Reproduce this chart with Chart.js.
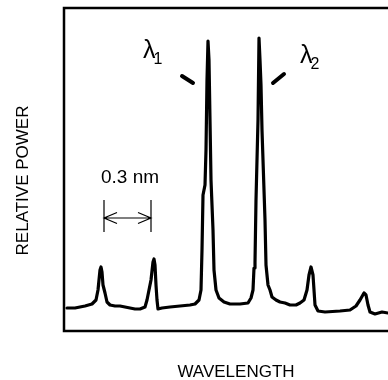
<!DOCTYPE html>
<html>
<head>
<meta charset="utf-8">
<script src="https://cdn.jsdelivr.net/npm/chart.js@4"></script>
<style>
html,body{margin:0;padding:0;background:#fff;}
canvas{display:block;}
</style>
</head>
<body>
<canvas id="c" width="388" height="380"></canvas>
<script>
// Wavelength (arbitrary units) and relative power (arbitrary units)
const wavelength = [3,11,21,28,32,34,36,37,38,39,41,43,46,51,56,61,71,76,81,83,85,87,89,90,91,92,93,94,98,106,116,126,131,135,137,138,139,141,142,143,144,145,146,147,149,150,152,155,160,166,176,184,187,189,190,191,192,194,195,196,197,198,200,201,202,204,206,208,212,216,221,226,232,236,240,243,245,247,249,250,251,254,261,276,286,292,296,300,302,304,306,311,318,324];
const power =      [23,23,25,27,31,41,61,64,59,46,38,29,26,25,25,24,22,22,24,31,41,51,69,72,66,46,31,22,23,24,25,26,27,31,41,81,136,146,181,251,290,271,211,151,101,61,41,33,29,27,27,28,33,41,63,69,131,211,293,271,246,201,141,111,66,46,41,34,31,29,28,26,26,28,31,41,56,64,56,41,26,20,19,20,21,25,31,38,36,26,19,17,19,18];
const xRange = [0, 324];
const yRange = [0, 323];
const axisTitles = { x: 'WAVELENGTH', y: 'RELATIVE POWER' };
const peakLabels = [
  { main: 'λ', sub: '1', x: 79, y: 273, tick: [[118, 255], [129, 248]] },
  { main: 'λ', sub: '2', x: 236, y: 268, tick: [[209, 248], [220, 257]] }
];
const spacing = { text: '0.3 nm', x1: 40, x2: 87, yText: 148, yArrow: 113, yBarTop: 131, yBarBot: 99 };

const points = wavelength.map((w, i) => ({ x: w, y: power[i] }));

const decor = {
  id: 'decor',
  beforeDatasetsDraw(chart) {
    const { ctx, chartArea: a } = chart;
    ctx.save();
    ctx.strokeStyle = '#000';
    ctx.lineWidth = 2.5;
    ctx.beginPath();
    ctx.moveTo(a.right + 2, a.top);
    ctx.lineTo(a.left, a.top);
    ctx.lineTo(a.left, a.bottom);
    ctx.lineTo(a.right + 2, a.bottom);
    ctx.stroke();
    ctx.restore();
  },
  afterDraw(chart) {
    const { ctx, chartArea: a } = chart;
    const xs = chart.scales.x, ys = chart.scales.y;
    ctx.save();
    ctx.fillStyle = '#000';
    ctx.strokeStyle = '#000';
    // axis titles
    ctx.font = '17px "Liberation Sans", Arial, sans-serif';
    ctx.textAlign = 'center';
    ctx.textBaseline = 'alphabetic';
    ctx.fillText(axisTitles.x, (a.left + a.right) / 2 + 10, 377);
    ctx.save();
    ctx.translate(28, (a.top + a.bottom) / 2 + 11);
    ctx.rotate(-Math.PI / 2);
    ctx.fillText(axisTitles.y, 0, 0);
    ctx.restore();
    // peak labels
    peakLabels.forEach(p => {
      const px = xs.getPixelForValue(p.x), py = ys.getPixelForValue(p.y);
      ctx.textAlign = 'left';
      ctx.font = '25px "Liberation Sans", Arial, sans-serif';
      ctx.fillText(p.main, px, py);
      const w = ctx.measureText(p.main).width;
      ctx.font = '16px "Liberation Sans", Arial, sans-serif';
      ctx.fillText(p.sub, px + w - 2, py + 6);
      ctx.lineWidth = 4;
      ctx.lineCap = 'round';
      ctx.beginPath();
      ctx.moveTo(xs.getPixelForValue(p.tick[0][0]), ys.getPixelForValue(p.tick[0][1]));
      ctx.lineTo(xs.getPixelForValue(p.tick[1][0]), ys.getPixelForValue(p.tick[1][1]));
      ctx.stroke();
    });
    // spacing marker
    const x1 = xs.getPixelForValue(spacing.x1), x2 = xs.getPixelForValue(spacing.x2);
    const ya = ys.getPixelForValue(spacing.yArrow);
    ctx.font = '19px "Liberation Sans", Arial, sans-serif';
    ctx.textAlign = 'left';
    ctx.fillText(spacing.text, x1 - 3, ys.getPixelForValue(spacing.yText));
    ctx.lineWidth = 1.2;
    ctx.lineCap = 'butt';
    ctx.beginPath();
    ctx.moveTo(x1, ys.getPixelForValue(spacing.yBarTop));
    ctx.lineTo(x1, ys.getPixelForValue(spacing.yBarBot));
    ctx.moveTo(x2, ys.getPixelForValue(spacing.yBarTop));
    ctx.lineTo(x2, ys.getPixelForValue(spacing.yBarBot));
    ctx.moveTo(x1, ya);
    ctx.lineTo(x2, ya);
    ctx.moveTo(x1 + 13, ya - 5.5); ctx.lineTo(x1, ya); ctx.lineTo(x1 + 13, ya + 5.5);
    ctx.moveTo(x2 - 13, ya - 5.5); ctx.lineTo(x2, ya); ctx.lineTo(x2 - 13, ya + 5.5);
    ctx.stroke();
    ctx.restore();
  }
};

new Chart(document.getElementById('c'), {
  type: 'line',
  data: {
    datasets: [{
      data: points,
      borderColor: '#000',
      borderWidth: 3.2,
      pointRadius: 0,
      tension: 0,
      fill: false,
      borderJoinStyle: 'round',
      borderCapStyle: 'round'
    }]
  },
  options: {
    responsive: false,
    animation: false,
    events: [],
    layout: { padding: { left: 64, right: 0, top: 8, bottom: 49 } },
    plugins: { legend: { display: false }, tooltip: { enabled: false } },
    scales: {
      x: { type: 'linear', display: false, min: xRange[0], max: xRange[1] },
      y: { type: 'linear', display: false, min: yRange[0], max: yRange[1] }
    }
  },
  plugins: [decor]
});
</script>
</body>
</html>
